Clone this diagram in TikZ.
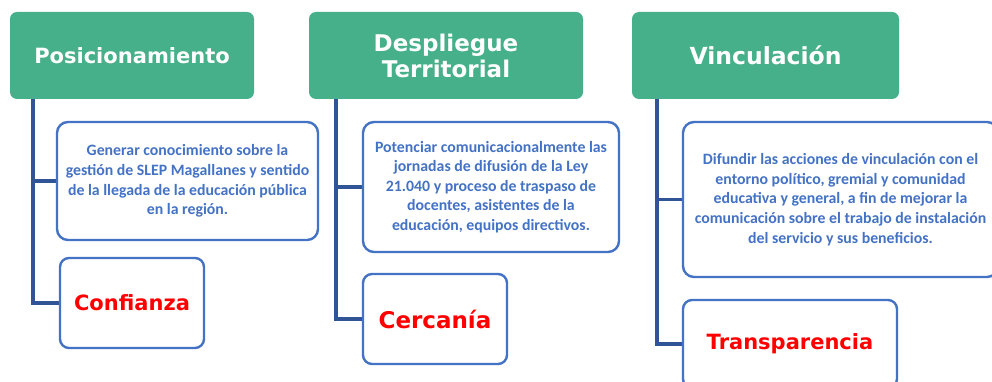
\documentclass[tikz,border=0pt]{standalone}
\usepackage{fontspec}
\usetikzlibrary{backgrounds}
\setmainfont{Carlito}
\newfontfamily\headfont{DejaVu Sans}
\definecolor{hgreen}{RGB}{70,176,139}
\definecolor{bblue}{RGB}{68,114,196}
\definecolor{lblue}{RGB}{47,85,151}
\begin{document}
\begin{tikzpicture}[x=1pt,y=-1pt,
  head/.style={fill=hgreen, draw=none, rounded corners=7pt, inner sep=0pt, align=center,
    text=white, font=\headfont\bfseries\fontsize{21}{26}\selectfont},
  descbox/.style={draw=bblue, line width=2.4pt, rounded corners=11pt, fill=white, inner sep=0pt,
    align=center, text=bblue, font=\bfseries\fontsize{15.8}{19.6}\selectfont},
  valbox/.style={draw=bblue, line width=2.4pt, rounded corners=9pt, fill=white, inner sep=0pt,
    align=center, text=red, font=\headfont\bfseries\fontsize{21}{26}\selectfont},
  conn/.style={draw=lblue, line width=3.2pt}]
\useasboundingbox (0,0) rectangle (992,382);
% Panel 1
\node[head, minimum width=244pt, minimum height=87pt] (h1) at (132,55.5) {Posicionamiento};
\node[descbox, minimum width=261pt, minimum height=118pt] (d1) at (187.5,181) {Generar conocimiento sobre la\\gestión de SLEP Magallanes y sentido\\de la llegada de la educación pública\\en la región.};
\node[valbox, minimum width=144pt, minimum height=90pt] (v1) at (132,303) {Confianza};
% Panel 2
\node[head, minimum width=274pt, minimum height=87pt, font=\headfont\bfseries\fontsize{23}{26}\selectfont] (h2) at (446,55.5) {Despliegue\\Territorial};
\node[descbox, minimum width=256pt, minimum height=130pt] (d2) at (491,187) {Potenciar comunicacionalmente las\\jornadas de difusión de la Ley\\21.040 y proceso de traspaso de\\docentes, asistentes de la\\educación, equipos directivos.};
\node[valbox, minimum width=144pt, minimum height=90pt, font=\headfont\bfseries\fontsize{23}{26}\selectfont] (v2) at (435,319) {Cercanía};
% Panel 3
\node[head, minimum width=267pt, minimum height=87pt, font=\headfont\bfseries\fontsize{23.5}{26}\selectfont] (h3) at (765.5,55.5) {Vinculación};
\node[descbox, minimum width=315pt, minimum height=155pt] (d3) at (840.5,199.5) {Difundir las acciones de vinculación con el\\entorno político, gremial y comunidad\\educativa y general, a fin de mejorar la\\comunicación sobre el trabajo de instalación\\del servicio y sus beneficios.};
\node[valbox, minimum width=214pt, minimum height=88pt] (v3) at (790,344) {Transparencia};
% connectors
\coordinate (t1) at (33,99);
\coordinate (t2) at (336,99);
\coordinate (t3) at (657,99);
\begin{scope}[on background layer]
\fill[white] (0,0) rectangle (992,382);
\draw[conn] (t1) |- (d1.west);
\draw[conn] (t1) |- (v1.west);
\draw[conn] (t2) |- (d2.west);
\draw[conn] (t2) |- (v2.west);
\draw[conn] (t3) |- (d3.west);
\draw[conn] (t3) |- (v3.west);
\end{scope}
\end{tikzpicture}
\end{document}
